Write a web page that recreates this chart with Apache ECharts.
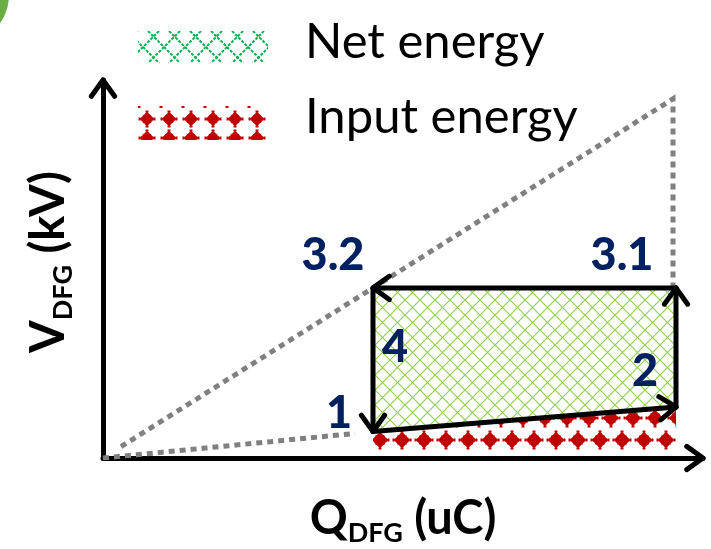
<!DOCTYPE html>
<html>
<head>
<meta charset="utf-8">
<script src="https://cdn.jsdelivr.net/npm/echarts@6/dist/echarts.min.js"></script>
<style>
  html, body { margin: 0; padding: 0; background: #ffffff; }
  #chart { width: 711px; height: 549px; }
</style>
</head>
<body>
<div id="chart"></div>
<script>
// Thermodynamic cycle in the charge–voltage plane (arbitrary units)
const stateNames = ['1', '2', '3.1', '3.2'];
const stateQ = [45, 95.5, 95.5, 45];
const stateV = [7, 13.5, 45, 45];
const legName = '4';                 // label of the leg 3.2 -> 1
const inputFloorV = 2;               // lower edge of the input-energy band

// Dotted guide lines through the origin
const upperGuideQ = [3, 95, 95];
const upperGuideV = [3, 95, 45];
const lowerGuideQ = [0, 42];
const lowerGuideV = [0, 6.5];

const legendNames = ['Net energy', 'Input energy'];
const axisMax = { q: 100, v: 100 };

// ---- styling -------------------------------------------------------------
const NAVY = '#002060';
const GREY = '#808080';
const LABEL_FONT = 'Lato, "Open Sans", sans-serif';
const labelOffsets = { '1': [-34, -18], '2': [-31, -35], '3.1': [-54, -32], '3.2': [-40, -32] };
const legLabelOffset = [22, -12];

function makeCanvas(w, h) {
  const c = document.createElement('canvas');
  c.width = w; c.height = h;
  return c;
}

// Diamond lattice (thin criss-cross lines)
function latticeTile(size, color, lw) {
  const c = makeCanvas(size, size);
  const g = c.getContext('2d');
  g.strokeStyle = color; g.lineWidth = lw;
  g.beginPath();
  g.moveTo(0, 0); g.lineTo(size, size);
  g.moveTo(size, 0); g.lineTo(0, size);
  g.stroke();
  return c;
}

// Rounded diamond with small nubs at its four tips
function drawDiamond(g, cx, cy, r) {
  g.beginPath();
  g.moveTo(cx, cy - r);
  g.quadraticCurveTo(cx + r * 0.45, cy - r * 0.45, cx + r, cy);
  g.quadraticCurveTo(cx + r * 0.45, cy + r * 0.45, cx, cy + r);
  g.quadraticCurveTo(cx - r * 0.45, cy + r * 0.45, cx - r, cy);
  g.quadraticCurveTo(cx - r * 0.45, cy - r * 0.45, cx, cy - r);
  g.closePath(); g.fill();
  g.fillRect(cx - r * 0.55, cy - r * 0.55, r * 1.1, r * 1.1);
  const n = 1.5;
  g.fillRect(cx - r - 1, cy - n, 2, 2 * n);
  g.fillRect(cx + r - 1, cy - n, 2, 2 * n);
  g.fillRect(cx - n, cy - r - 1, 2 * n, 2);
  g.fillRect(cx - n, cy + r - 1, 2 * n, 2);
}

// Staggered red diamonds, repeated with wrap-around so the tile is seamless
function diamondTile(w, h, cx, cy, r, color) {
  const c = makeCanvas(w, 2 * h);
  const g = c.getContext('2d');
  g.fillStyle = color;
  const H = 2 * h;
  for (let dx = -1; dx <= 1; dx++) {
    for (let dy = -1; dy <= 1; dy++) {
      drawDiamond(g, cx + dx * w, cy + dy * H, r);
      drawDiamond(g, cx + w / 2 + dx * w, cy + h + dy * H, r);
    }
  }
  return c;
}

function latticeSwatch(w, h, period, color, lw) {
  const c = makeCanvas(w, h);
  const g = c.getContext('2d');
  g.strokeStyle = color; g.lineWidth = lw;
  g.setLineDash([3, 1.5]);
  g.beginPath();
  for (let k = -h; k < w + h; k += period) {
    g.moveTo(k, 0); g.lineTo(k + h, h);
    g.moveTo(k + h, 0); g.lineTo(k, h);
  }
  g.stroke();
  return c;
}

function diamondSwatch(w, h, px, py, r, color) {
  const c = makeCanvas(w, h);
  const g = c.getContext('2d');
  g.fillStyle = color;
  for (let x = 9; x < w + px; x += px) {
    for (let y = 13; y < h + py; y += py) drawDiamond(g, x, y, r);
    drawDiamond(g, x - px / 2 + 3, -3, 4);
  }
  return c;
}

const netFill = { image: latticeTile(15, '#92D050', 1.2), repeat: 'repeat' };
const inputFill = { image: diamondTile(22, 22, 6, 0, 8.5, '#C00000'), repeat: 'repeat' };

function chevron(tip, from, len, halfAngle) {
  const dx = tip[0] - from[0], dy = tip[1] - from[1];
  const d = Math.hypot(dx, dy) || 1;
  const ux = dx / d, uy = dy / d;
  const c = Math.cos(halfAngle), s = Math.sin(halfAngle);
  const a = [tip[0] - len * (ux * c - uy * s), tip[1] - len * (uy * c + ux * s)];
  const b = [tip[0] - len * (ux * c + uy * s), tip[1] - len * (uy * c - ux * s)];
  return [a, tip, b];
}

const arrowStyle = { stroke: '#000', lineWidth: 5, fill: null, lineCap: 'round', lineJoin: 'round' };

const titleRich = {
  b: { fontFamily: LABEL_FONT, fontWeight: 'bold', fontSize: 47, color: '#000', lineHeight: 52 },
  s: { fontFamily: LABEL_FONT, fontWeight: 'bold', fontSize: 27, color: '#000', lineHeight: 27, verticalAlign: 'bottom', padding: [0, 0, -2, 0] }
};

const option = {
  animation: false,
  backgroundColor: '#ffffff',
  grid: { left: 103, right: 8, top: 80, bottom: 91, outerBoundsMode: 'none', containLabel: false },
  xAxis: {
    type: 'value', min: 0, max: axisMax.q,
    axisLine: { show: true, onZero: false, lineStyle: { color: '#000', width: 5 } },
    axisTick: { show: false }, axisLabel: { show: false }, splitLine: { show: false },
    name: '{b|Q}{s|DFG}{b| (uC)}',
    nameLocation: 'middle', nameGap: 35,
    nameTextStyle: { rich: titleRich }
  },
  yAxis: {
    type: 'value', min: 0, max: axisMax.v,
    axisLine: { show: true, onZero: false, lineStyle: { color: '#000', width: 5 } },
    axisTick: { show: false }, axisLabel: { show: false }, splitLine: { show: false },
    name: '{b|V}{s|DFG}{b| (kV)}',
    nameLocation: 'middle', nameGap: 28,
    nameTextStyle: { rich: titleRich, padding: [0, 0, 0, 14] }
  },
  series: [
    // Input (red) and net (green) energy areas
    {
      type: 'custom', silent: true, z: 1,
      data: [0],
      renderItem: function (params, api) {
        const pts = stateQ.map((q, i) => api.coord([q, stateV[i]]));
        const redPts = [
          api.coord([stateQ[0], stateV[0]]),
          api.coord([stateQ[1], stateV[1]]),
          api.coord([stateQ[1], inputFloorV]),
          api.coord([stateQ[0], inputFloorV])
        ];
        return {
          type: 'group',
          children: [
            { type: 'polygon', shape: { points: redPts }, style: { fill: inputFill, stroke: null } },
            { type: 'polygon', shape: { points: pts }, style: { fill: netFill, stroke: null } }
          ]
        };
      }
    },
    // Dotted guides
    {
      type: 'line', z: 2, silent: true, symbol: 'none',
      data: upperGuideQ.map((q, i) => [q, upperGuideV[i]]),
      lineStyle: { color: GREY, width: 5, type: [6, 5], cap: 'butt', join: 'miter' }
    },
    {
      type: 'line', z: 2, silent: true, symbol: 'none',
      data: lowerGuideQ.map((q, i) => [q, lowerGuideV[i]]),
      lineStyle: { color: GREY, width: 5, type: [6, 5], cap: 'butt' }
    },
    // Cycle legs with arrowheads
    {
      type: 'custom', silent: true, z: 3,
      data: stateQ.map((q, i) => i),
      renderItem: function (params, api) {
        const i = params.dataIndex, j = (i + 1) % stateQ.length;
        const a = api.coord([stateQ[i], stateV[i]]);
        const b = api.coord([stateQ[j], stateV[j]]);
        return {
          type: 'group',
          children: [
            { type: 'line', shape: { x1: a[0], y1: a[1], x2: b[0], y2: b[1] }, style: arrowStyle },
            { type: 'polyline', shape: { points: chevron(b, a, 20, 0.62) }, style: arrowStyle }
          ]
        };
      }
    },
    // Axis arrowheads
    {
      type: 'custom', silent: true, z: 4,
      data: [0],
      renderItem: function (params, api) {
        const o = api.coord([0, 0]);
        const xe = api.coord([axisMax.q, 0]);
        const ye = api.coord([0, axisMax.v]);
        return {
          type: 'group',
          children: [
            { type: 'polyline', shape: { points: chevron(xe, o, 20, 0.62) }, style: arrowStyle },
            { type: 'polyline', shape: { points: chevron(ye, o, 20, 0.62) }, style: arrowStyle }
          ]
        };
      }
    },
    // State and leg labels
    {
      type: 'custom', silent: true, z: 5,
      data: [0],
      renderItem: function (params, api) {
        const font = '900 45px ' + LABEL_FONT;
        const children = stateNames.map((name, i) => {
          const p = api.coord([stateQ[i], stateV[i]]);
          const off = labelOffsets[name];
          return {
            type: 'text',
            style: {
              text: name, x: p[0] + off[0], y: p[1] + off[1],
              align: 'center', verticalAlign: 'middle', font: font, fill: NAVY
            }
          };
        });
        const a = api.coord([stateQ[3], stateV[3]]);
        const b = api.coord([stateQ[0], stateV[0]]);
        children.push({
          type: 'text',
          style: {
            text: legName,
            x: (a[0] + b[0]) / 2 + legLabelOffset[0], y: (a[1] + b[1]) / 2 + legLabelOffset[1],
            align: 'center', verticalAlign: 'middle', font: font, fill: NAVY
          }
        });
        return { type: 'group', children: children };
      }
    }
  ],
  graphic: [
    { type: 'circle', shape: { cx: -40, cy: -5, r: 49 }, style: { fill: '#6AAF45' }, silent: true },
    { type: 'image', left: 138, top: 31, style: { image: latticeSwatch(130, 32, 21, '#00B050', 2), width: 130, height: 32 }, silent: true },
    { type: 'image', left: 138, top: 106, style: { image: diamondSwatch(130, 34, 22, 19, 7.5, '#C00000'), width: 130, height: 34 }, silent: true },
    { type: 'text', left: 305, top: 18, style: { text: legendNames[0], font: '49px ' + LABEL_FONT, fill: '#000' }, silent: true },
    { type: 'text', left: 305, top: 93, style: { text: legendNames[1], font: '49px ' + LABEL_FONT, fill: '#000' }, silent: true }
  ]
};

const chart = echarts.init(document.getElementById('chart'));
chart.setOption(option);
</script>
</body>
</html>
